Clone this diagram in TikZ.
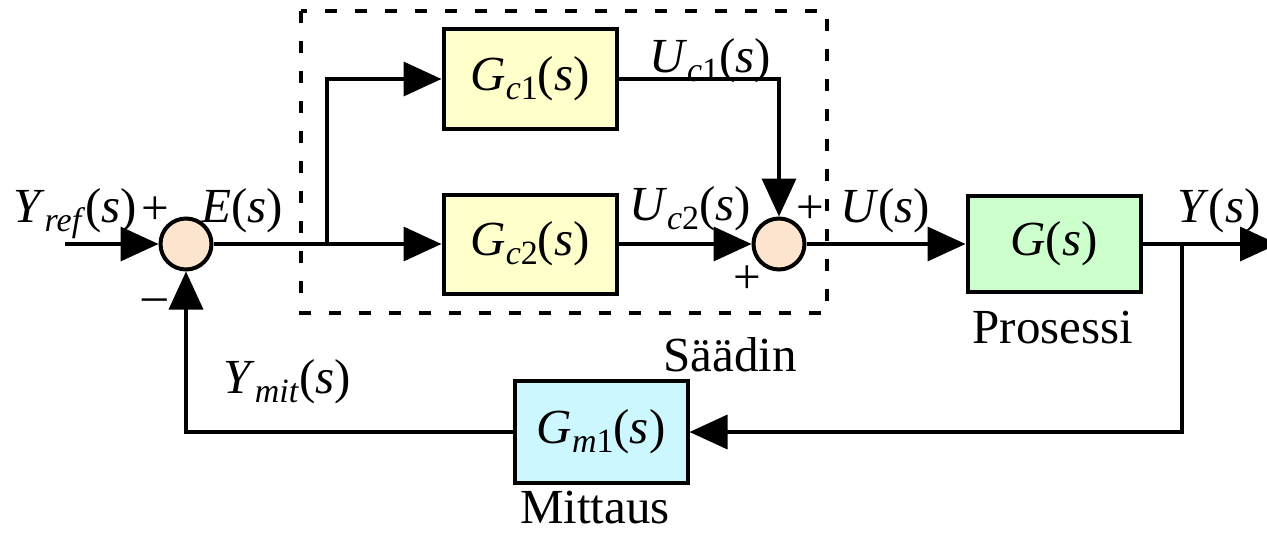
\documentclass[tikz,border=0pt]{standalone}
\usepackage{fontspec}
\setmainfont{Liberation Serif}
\usetikzlibrary{arrows.meta}
\definecolor{cyellow}{RGB}{255,255,204}
\definecolor{cgreen}{RGB}{204,255,204}
\definecolor{ccyan}{RGB}{204,247,255}
\definecolor{cpeach}{RGB}{252,228,206}
\newcommand{\sbs}[1]{\raisebox{-9pt}{\fontsize{34}{34}\selectfont #1}}
\begin{document}
\begin{tikzpicture}[x=1pt,y=-1pt,
  font=\fontsize{49}{58}\selectfont,
  blockbox/.style={draw,line width=4pt,minimum width=173pt,inner sep=0pt},
  sumnode/.style={circle,draw,line width=4pt,fill=cpeach,minimum size=51pt,inner sep=0pt},
  conn/.style={line width=3.6pt},
  arr/.style={conn,-{Triangle[length=38pt,width=34pt]}},
  lbl/.style={anchor=base,inner sep=0pt},
  sgn/.style={anchor=center,inner sep=0pt}]
\useasboundingbox (0,0) rectangle (1267,535);
% dashed controller frame
\draw[line width=3.6pt,dash pattern=on 12pt off 18pt] (301,11) rectangle (827,313);
% blocks
\node[blockbox,fill=cyellow,minimum height=99pt] (gc1) at (530,79) {\textit{G}\sbs{\textit{c}1}(\textit{s})};
\node[blockbox,fill=cyellow,minimum height=99pt] (gc2) at (530,244) {\textit{G}\sbs{\textit{c}2}(\textit{s})};
\node[blockbox,fill=cgreen,minimum height=96pt] (g) at (1054,244) {\textit{G}(\textit{s})};
\node[blockbox,fill=ccyan,minimum height=102pt] (gm) at (601,432) {\textit{G}\sbs{\textit{m}1}(\textit{s})};
% summing junctions
\node[sumnode] (s1) at (186,244) {};
\node[sumnode] (s2) at (779,244) {};
% coordinates
\coordinate (in) at (65,244);
\coordinate (br1) at (327,244);
\coordinate (br2) at (1182,244);
\coordinate (out) at (1278,244);
\coordinate (fb) at (1182,432);
% connectors
\draw[arr] (in) -- (s1.west);
\draw[conn] (s1.east) -- (br1);
\draw[arr] (br1) -- (gc2.west);
\draw[arr] (br1) |- (gc1.west);
\draw[arr] (gc1.east) -| (s2.north);
\draw[arr] (gc2.east) -- (s2.west);
\draw[arr] (s2.east) -- (g.west);
\draw[arr] (g.east) -- (out);
\draw[arr] (br2) -- (fb) -- (gm.east);
\draw[arr] (gm.west) -| (s1.south);
% labels
\node[lbl] (lyref) at (75,222) {\textit{Y}\sbs{\textit{ref}}(\textit{s})};
\node[lbl] (le) at (242,222) {\textit{E}(\textit{s})};
\node[lbl] (luc1) at (710,73) {\textit{U}\sbs{\textit{c}1}(\textit{s})};
\node[lbl] (luc2) at (690,220) {\textit{U}\sbs{\textit{c}2}(\textit{s})};
\node[lbl] (lu) at (885,222) {\textit{U}(\textit{s})};
\node[lbl] (ly) at (1219,222) {\textit{Y}(\textit{s})};
\node[lbl] (lymit) at (287,393) {\textit{Y}\sbs{\textit{mit}}(\textit{s})};
\node[lbl] (lsaadin) at (730,371) {Säädin};
\node[lbl] (lpros) at (1053,343) {Prosessi};
\node[lbl] (lmitt) at (595,523) {Mittaus};
% signs
\node[sgn] (p1) at (155,211) {+};
\node[sgn] (m1) at (155,305) {–};
\node[sgn] (p2) at (810,210) {+};
\node[sgn] (p3) at (747,280) {+};
\end{tikzpicture}
\end{document}
